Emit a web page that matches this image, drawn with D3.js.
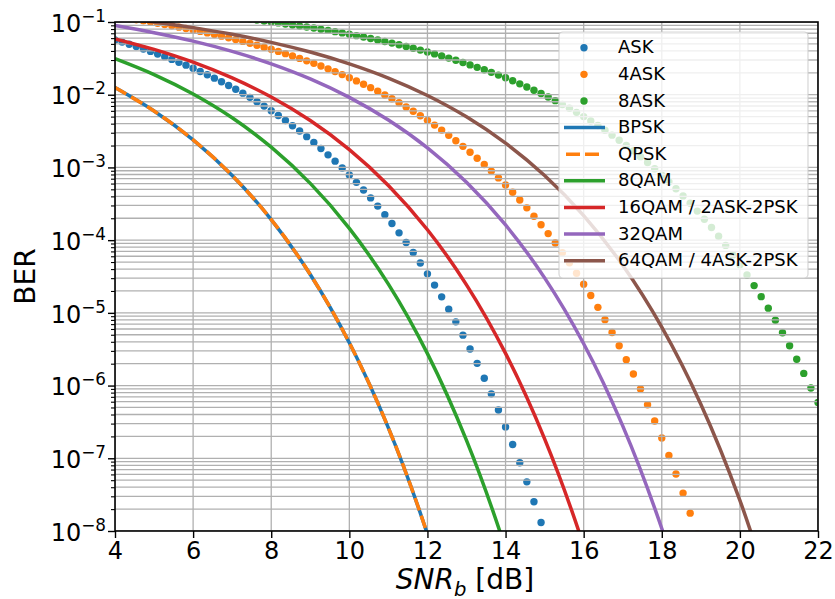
<!DOCTYPE html>
<html><head><meta charset="utf-8">
<script src="https://cdn.jsdelivr.net/npm/d3@7"></script>
<style>
body{margin:0;background:#fff}
svg{display:block}
text{font-family:"DejaVu Sans",sans-serif;fill:#000}
</style></head>
<body><svg id="chart" width="835" height="599"></svg>
<script>
// ---------------- data ----------------
const snrGrid = [
 4.000,4.182,4.364,4.545,4.727,4.909,5.091,5.273,5.455,5.636,5.818,
 6.000,6.182,6.364,6.545,6.727,6.909,7.091,7.273,7.455,7.636,7.818,
 8.000,8.182,8.364,8.545,8.727,8.909,9.091,9.273,9.455,9.636,9.818,
 10.000,10.182,10.364,10.545,10.727,10.909,11.091,11.273,11.455,11.636,11.818,
 12.000,12.182,12.364,12.545,12.727,12.909,13.091,13.273,13.455,13.636,13.818,
 14.000,14.182,14.364,14.545,14.727,14.909,15.091,15.273,15.455,15.636,15.818,
 16.000,16.182,16.364,16.545,16.727,16.909,17.091,17.273,17.455,17.636,17.818,
 18.000,18.182,18.364,18.545,18.727,18.909,19.091,19.273,19.455,19.636,19.818,
 20.000,20.182,20.364,20.545,20.727,20.909,21.091,21.273,21.455,21.636,21.818,
 22.000];

const berASK = [
 0.0566,0.0529,0.0494,0.0459,0.0425,0.0394,0.0363,0.0334,0.0306,0.0280,0.0255,
 0.0231,0.0209,0.0188,0.0169,0.0151,0.0134,0.0119,0.0105,0.00920,0.00803,0.00697,
 0.00603,0.00518,0.00442,0.00375,0.00317,0.00265,0.00221,0.00182,0.00149,0.00122,0.000981,
 7.85e-4,6.23e-4,4.90e-4,3.81e-4,2.94e-4,2.24e-4,1.69e-4,1.26e-4,9.27e-5,6.75e-5,4.85e-5,
 3.44e-5,2.41e-5,1.66e-5,1.12e-5,7.52e-6,4.94e-6,3.19e-6,2.02e-6,1.26e-6,7.70e-7,4.61e-7,
 2.70e-7,1.55e-7,8.67e-8,4.74e-8,2.53e-8,1.31e-8,6.64e-9];

const ber4ASK = [
 0.1186,0.1149,0.1112,0.1075,0.1038,0.1001,0.0963,0.0925,0.0887,0.0850,0.0813,
 0.0778,0.0743,0.0708,0.0674,0.0639,0.0605,0.0573,0.0541,0.0510,0.0480,0.0450,
 0.0421,0.0394,0.0367,0.0341,0.0316,0.0292,0.0270,0.0248,0.0227,0.0208,0.0189,
 0.0171,0.01548,0.01394,0.01251,0.01117,0.00992,0.00879,0.00775,0.00680,0.00593,0.00514,
 0.00444,0.00382,0.00326,0.00276,0.00233,0.00195,0.00162,0.001338,0.001095,8.90e-4,7.18e-4,
 5.74e-4,4.55e-4,3.57e-4,2.78e-4,2.13e-4,1.63e-4,1.23e-4,9.12e-5,6.71e-5,4.88e-5,3.50e-5,
 2.48e-5,1.73e-5,1.19e-5,8.06e-6,5.38e-6,3.53e-6,2.27e-6,1.44e-6,8.95e-7,5.45e-7,3.26e-7,
 1.90e-7,1.09e-7,6.08e-8,3.32e-8,1.76e-8,9.14e-9];

const ber8ASK = [
 null,null,null,null,null,null,null,null,null,null,null,
 null,null,null,0.1239,0.1211,0.1183,0.1154,0.1125,0.1095,0.1065,0.1034,
 0.1003,0.0972,0.0940,0.0910,0.0882,0.0854,0.0825,0.0796,0.0766,0.0737,0.0708,
 0.0678,0.0649,0.0621,0.0594,0.0567,0.0540,0.0513,0.0487,0.0460,0.0436,0.0411,
 0.0387,0.0364,0.0341,0.0319,0.0298,0.0277,0.0257,0.0238,0.0220,0.0203,0.0186,
 0.0171,0.01555,0.01411,0.01278,0.01154,0.01038,0.00929,0.00828,0.00735,0.00650,0.00572,
 0.00500,0.00435,0.00377,0.00325,0.00278,0.00237,0.00201,0.00169,0.001407,0.001167,9.60e-4,
 7.83e-4,6.35e-4,5.10e-4,4.06e-4,3.21e-4,2.51e-4,1.94e-4,1.49e-4,1.13e-4,8.47e-5,6.27e-5,
 4.59e-5,3.32e-5,2.37e-5,1.67e-5,1.16e-5,7.92e-6,5.33e-6,3.53e-6,2.30e-6,1.47e-6,9.25e-7,
 5.84e-7];

const snrLine = [4,5,6,7,8,9,10,11,12,13,14,15,16,17,18,19,20,21];
const berBPSK  = [1.253e-2,5.97e-3,2.39e-3,7.74e-4,1.92e-4,3.37e-5,3.88e-6,2.62e-7,9.02e-9,1.34e-10];
const berQPSK  = [1.253e-2,5.97e-3,2.39e-3,7.74e-4,1.92e-4,3.37e-5,3.88e-6,2.62e-7,9.02e-9,1.34e-10];
const ber8QAM  = [3.13e-2,1.891e-2,1.023e-2,4.82e-3,1.90e-3,6.03e-4,1.454e-4,2.48e-5,2.75e-6,1.76e-7,5.71e-9,7.8e-11];
const ber16QAM = [5.87e-2,4.20e-2,2.80e-2,1.70e-2,9.28e-3,4.41e-3,1.759e-3,5.66e-4,1.391e-4,2.43e-5,2.77e-6,1.85e-7,6.26e-9,9.1e-11];
const ber32QAM = [8.93e-2,7.12e-2,5.45e-2,3.94e-2,2.66e-2,1.651e-2,9.20e-3,4.48e-3,1.856e-3,6.24e-4,1.617e-4,3.03e-5,3.76e-6,2.79e-7,1.084e-8,1.87e-10];
const ber64QAM = [0.1167,0.1001,8.37e-2,6.77e-2,5.25e-2,3.86e-2,2.66e-2,1.697e-2,9.77e-3,4.97e-3,2.16e-3,7.74e-4,2.18e-4,4.51e-5,6.36e-6,5.55e-7,2.64e-8,5.86e-10];

const xTicks = [4,6,8,10,12,14,16,18,20,22];
const yTickExps = [-8,-7,-6,-5,-4,-3,-2,-1];
const yMinorMantissas = [2,3,4,5,6,7,8,9];

const legendLabels = ["ASK","4ASK","8ASK","BPSK","QPSK","8QAM","16QAM / 2ASK-2PSK","32QAM","64QAM / 4ASK-2PSK"];
const colors = {blue:"#1f77b4",orange:"#ff7f0e",green:"#2ca02c",red:"#d62728",purple:"#9467bd",brown:"#8c564b"};

// ---------------- layout ----------------
const L=115, R=818, T=22, B=531;
const svg = d3.select("#chart");
const x = d3.scaleLinear().domain([4,22]).range([L,R]);
const y = d3.scaleLog().domain([1e-8,1e-1]).range([B,T]);

svg.append("defs").append("clipPath").attr("id","clip")
  .append("rect").attr("x",L).attr("y",T).attr("width",R-L).attr("height",B-T);
const plot = svg.append("g").attr("clip-path","url(#clip)");

// scatter series (drawn below the grid, like matplotlib collections)
const dotSeries = [
  {vals:berASK, color:colors.blue},
  {vals:ber4ASK, color:colors.orange},
  {vals:ber8ASK, color:colors.green}
];
const DOT_R = 3.7;
dotSeries.forEach(s=>{
  const pts = s.vals.map((v,i)=>({s:snrGrid[i], v})).filter(d=>d.v!=null);
  plot.append("g").selectAll("circle").data(pts).join("circle")
    .attr("cx",d=>x(d.s)).attr("cy",d=>y(d.v)).attr("r",DOT_R).attr("fill",s.color);
});

// grid
const gridColor="#b0b0b0", gridW=1.3;
const gGrid = plot.append("g");
const majorVals = yTickExps.map(e=>Math.pow(10,e));
const minorVals = [];
yTickExps.forEach(e=>{ if(e<-1) yMinorMantissas.forEach(m=>minorVals.push(m*Math.pow(10,e))); });
gGrid.selectAll("line.ym").data(majorVals.concat(minorVals)).join("line")
  .attr("x1",L).attr("x2",R).attr("y1",d=>y(d)).attr("y2",d=>y(d))
  .attr("stroke",gridColor).attr("stroke-width",gridW);
gGrid.selectAll("line.xg").data(xTicks).join("line")
  .attr("x1",d=>x(d)).attr("x2",d=>x(d)).attr("y1",T).attr("y2",B)
  .attr("stroke",gridColor).attr("stroke-width",gridW);

// line series
const LW = 3.5, DASH = "13,5.6";
const lineSeries = [
  {vals:berBPSK, color:colors.blue, dash:null},
  {vals:berQPSK, color:colors.orange, dash:DASH},
  {vals:ber8QAM, color:colors.green, dash:null},
  {vals:ber16QAM, color:colors.red, dash:null},
  {vals:ber32QAM, color:colors.purple, dash:null},
  {vals:ber64QAM, color:colors.brown, dash:null}
];
const lineGen = d3.line().x(d=>x(d.s)).y(d=>y(d.v)).curve(d3.curveCatmullRom.alpha(0.5));
lineSeries.forEach(s=>{
  const pts = s.vals.map((v,i)=>({s:snrLine[i], v}));
  plot.append("path").datum(pts).attr("d",lineGen)
    .attr("fill","none").attr("stroke",s.color).attr("stroke-width",LW)
    .attr("stroke-dasharray",s.dash);
});

// axes
const axX = svg.append("g").attr("transform",`translate(0,${B})`)
  .call(d3.axisBottom(x).tickValues(xTicks).tickSize(7).tickPadding(3).tickFormat(d3.format("d")));
axX.select(".domain").remove();
axX.selectAll(".tick line").attr("stroke","#000").attr("stroke-width",1.4);
axX.selectAll(".tick text").attr("font-size",24).attr("font-family","DejaVu Sans").attr("dy",null).attr("y",28).attr("fill","#000");

const axY = svg.append("g").attr("transform",`translate(${L},0)`)
  .call(d3.axisLeft(y).tickValues(majorVals).tickSize(7).tickFormat(""));
axY.select(".domain").remove();
axY.selectAll(".tick line").attr("stroke","#000").attr("stroke-width",1.4);
const axYm = svg.append("g").attr("transform",`translate(${L},0)`)
  .call(d3.axisLeft(y).tickValues(minorVals).tickSize(4).tickFormat(""));
axYm.select(".domain").remove();
axYm.selectAll(".tick line").attr("stroke","#000").attr("stroke-width",1.1);

// y tick labels 10^n
yTickExps.forEach(e=>{
  const t = svg.append("text").attr("x",106).attr("y",y(Math.pow(10,e))+9.7)
    .attr("text-anchor","end").attr("font-size",24);
  t.append("tspan").text("10");
  t.append("tspan").attr("font-size",16.8).attr("dy",-10).text("\u2212"+Math.abs(e));
});

// frame
svg.append("rect").attr("x",L).attr("y",T).attr("width",R-L).attr("height",B-T)
  .attr("fill","none").attr("stroke","#000").attr("stroke-width",1.6);

// axis labels
const xl = svg.append("text").attr("x",465).attr("y",589).attr("text-anchor","middle").attr("font-size",28);
xl.append("tspan").attr("font-style","italic").text("SNR");
xl.append("tspan").attr("font-style","italic").attr("font-size",19.6).attr("dy",6.5).text("b");
xl.append("tspan").attr("dy",-6.5).text(" [dB]");
svg.append("text").attr("transform","translate(35,276.5) rotate(-90)")
  .attr("text-anchor","middle").attr("font-size",28).text("BER");

// legend
const lg = svg.append("g");
lg.append("rect").attr("x",559).attr("y",32).attr("width",249).attr("height",246).attr("rx",4)
  .attr("fill","#fff").attr("fill-opacity",0.8).attr("stroke","#cccccc").attr("stroke-opacity",0.8).attr("stroke-width",1.2);
const legendKinds = [
  {type:"dot",color:colors.blue},{type:"dot",color:colors.orange},{type:"dot",color:colors.green},
  {type:"line",color:colors.blue},{type:"line",color:colors.orange,dash:"14,5"},{type:"line",color:colors.green},
  {type:"line",color:colors.red},{type:"line",color:colors.purple},{type:"line",color:colors.brown}
];
legendLabels.forEach((lab,i)=>{
  const cy = 47.7 + i*26.63;
  const k = legendKinds[i];
  if(k.type==="dot"){
    lg.append("circle").attr("cx",584).attr("cy",cy).attr("r",DOT_R).attr("fill",k.color);
  } else if(k.dash){
    lg.append("line").attr("x1",566).attr("x2",599).attr("y1",cy).attr("y2",cy)
      .attr("stroke",k.color).attr("stroke-width",LW).attr("stroke-dasharray",k.dash);
  } else {
    lg.append("line").attr("x1",564).attr("x2",605).attr("y1",cy).attr("y2",cy)
      .attr("stroke",k.color).attr("stroke-width",LW);
  }
  lg.append("text").attr("x",618).attr("y",cy+5.6).attr("font-size",18).text(lab);
});
</script></body></html>
